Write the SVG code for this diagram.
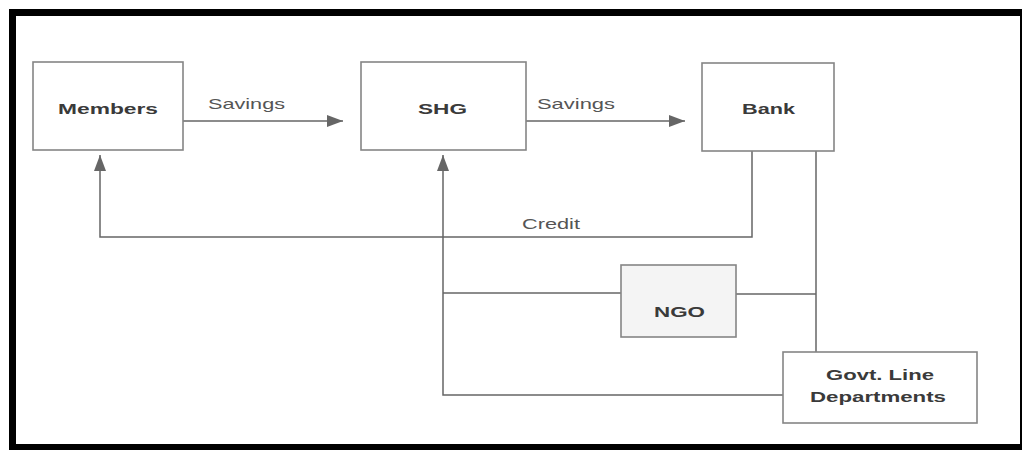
<svg xmlns="http://www.w3.org/2000/svg" width="1025" height="450" viewBox="0 0 1025 450">
<defs>
<style>
.box{fill:#fff;stroke:#858585;stroke-width:1.6}
.lbl{font-family:"Liberation Sans",Arial,sans-serif;font-size:15px;font-weight:bold;fill:#3a3a3a}
.elbl{font-family:"Liberation Sans",Arial,sans-serif;font-size:15px;fill:#555}
.con{fill:none;stroke:#666;stroke-width:1.5}
.frame{stroke:#000;fill:none}
</style>
<marker id="ah" viewBox="0 0 16 12" refX="16" refY="6" markerWidth="16" markerHeight="12" markerUnits="userSpaceOnUse" orient="auto">
<path d="M0,0 L16,6 L0,12 Z" fill="#666"/>
</marker>
</defs>
<rect x="0" y="0" width="1025" height="450" fill="#fff"/>
<g id="frame">
<line class="frame" x1="9" y1="12.5" x2="1022" y2="12.5" stroke-width="7"/>
<line class="frame" x1="12.5" y1="9" x2="12.5" y2="450" stroke-width="7"/>
<line class="frame" x1="9" y1="447" x2="1022" y2="447" stroke-width="6"/>
<line class="frame" x1="1021" y1="9" x2="1021" y2="450" stroke-width="2"/>
</g>
<g id="connectors">
<line class="con" x1="183" y1="121" x2="343" y2="121" marker-end="url(#ah)"/>
<line class="con" x1="526" y1="121" x2="685" y2="121" marker-end="url(#ah)"/>
<polyline class="con" points="752,151 752,237 100,237 100,155" marker-end="url(#ah)"/>
<polyline class="con" points="783,395 443,395 443,155" marker-end="url(#ah)"/>
<line class="con" x1="443" y1="293" x2="621" y2="293"/>
<line class="con" x1="736" y1="294" x2="816" y2="294"/>
<line class="con" x1="816" y1="151" x2="816" y2="352"/>
<text class="elbl" x="208" y="109" textLength="77" lengthAdjust="spacingAndGlyphs">Savings</text>
<text class="elbl" x="537" y="109" textLength="78" lengthAdjust="spacingAndGlyphs">Savings</text>
<text class="elbl" x="522" y="229" textLength="58" lengthAdjust="spacingAndGlyphs">Credit</text>
</g>
<g id="members">
<rect class="box" x="33" y="62" width="150" height="88"/>
<text class="lbl" x="58" y="114" textLength="100" lengthAdjust="spacingAndGlyphs">Members</text>
</g>
<g id="shg">
<rect class="box" x="361" y="62" width="165" height="88"/>
<text class="lbl" x="418" y="114" textLength="49" lengthAdjust="spacingAndGlyphs">SHG</text>
</g>
<g id="bank">
<rect class="box" x="702" y="63" width="132" height="88"/>
<text class="lbl" x="742" y="114" textLength="53" lengthAdjust="spacingAndGlyphs">Bank</text>
</g>
<g id="ngo">
<rect class="box" x="621" y="265" width="115" height="72" style="fill:#f4f4f4"/>
<text class="lbl" x="654" y="317" textLength="51" lengthAdjust="spacingAndGlyphs">NGO</text>
</g>
<g id="govt">
<rect class="box" x="783" y="352" width="194" height="71"/>
<text class="lbl" x="826" y="380" textLength="108" lengthAdjust="spacingAndGlyphs">Govt. Line</text>
<text class="lbl" x="810" y="402" textLength="136" lengthAdjust="spacingAndGlyphs">Departments</text>
</g>
</svg>
